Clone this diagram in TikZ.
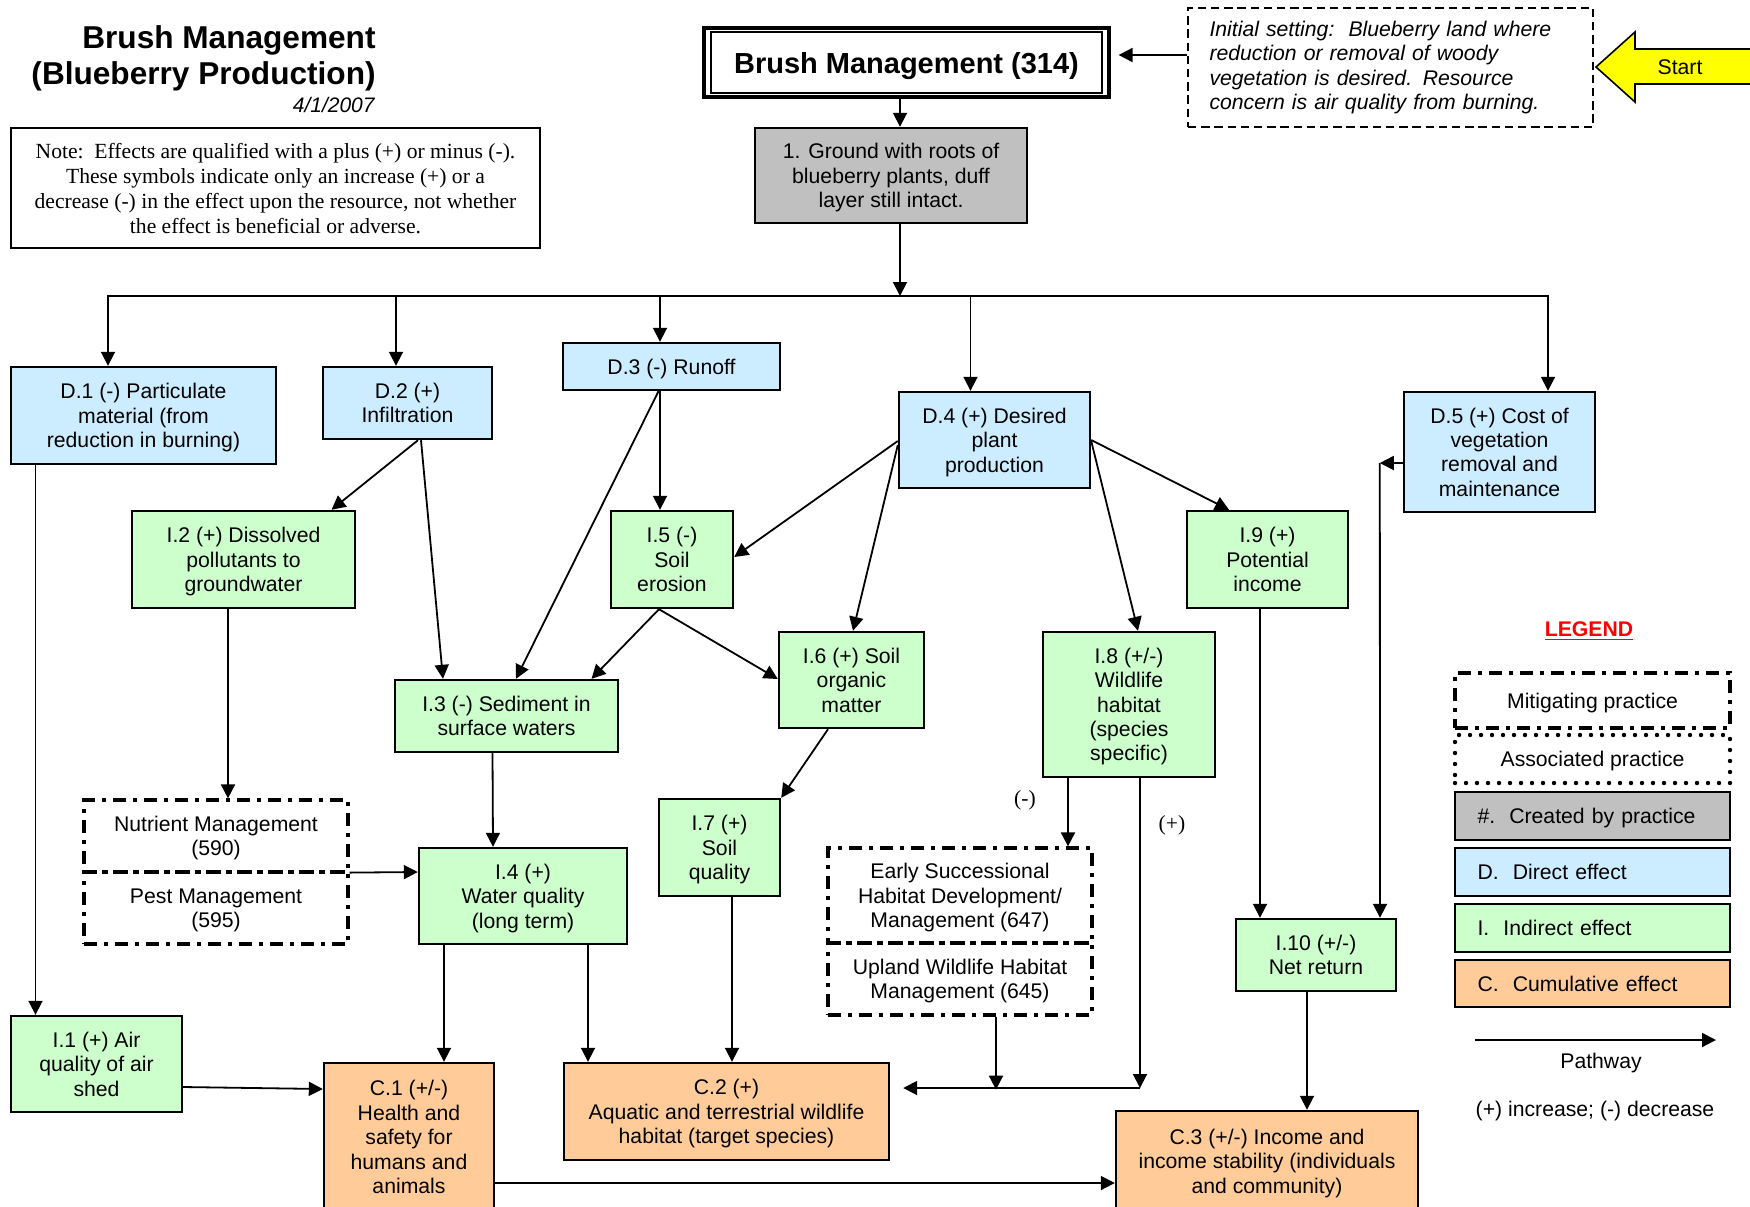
\documentclass[tikz,border=0pt]{standalone}
\usepackage{fontspec}
\setmainfont{Liberation Sans}
\newfontfamily\notefont{Liberation Serif}
\usetikzlibrary{arrows.meta,calc}

\definecolor{dirblue}{HTML}{CCECFF}
\definecolor{indgreen}{HTML}{CCFFCC}
\definecolor{cumorange}{HTML}{FFCC99}
\definecolor{crgray}{HTML}{C0C0C0}
\definecolor{startyellow}{HTML}{FFFF00}

% rectangle node given by its corners (x1,y1) (x2,y2) in picture units
\newcommand\boxat[7]{%
  \pgfmathsetmacro\bxwd{(#4-#2)*0.5}%
  \pgfmathsetmacro\bxht{(#5-#3)*0.5}%
  \node[#6, minimum width=\bxwd pt, minimum height=\bxht pt] (#1) at ({(#2+#4)/2},{(#3+#5)/2}) {#7};}

\tikzset{
  plainbox/.style={draw, line width=1.2pt, inner sep=1pt},
  box/.style={plainbox, align=center, text depth=0pt},
  dir/.style={box, fill=dirblue},
  ind/.style={box, fill=indgreen},
  cum/.style={box, fill=cumorange},
  made/.style={box, fill=crgray},
  mitig/.style={box, line width=1.6pt, dash pattern=on 6.5pt off 3.5pt on 2pt off 3.5pt},
  assoc/.style={box, line width=2.2pt, line cap=round, dash pattern=on 0pt off 5.5pt},
  legendbox/.style={align=left, text width=115pt, inner xsep=11pt},
  setting/.style={plainbox, line width=0.9pt, dash pattern=on 4.2pt off 2.4pt, align=left, text width=181pt, inner xsep=10.5pt, font=\itshape\fontsize{10.6}{12.3}\selectfont},
  arr/.style={-{Triangle[length=7pt,width=7pt]}, line width=0.9pt},
  sign/.style={font=\notefont\fontsize{10.8}{12.5}\selectfont, inner sep=0pt},
}

\begin{document}
\begin{tikzpicture}[x=0.5pt, y=-0.5pt, font=\fontsize{10.6}{12.2}\selectfont]
\useasboundingbox (0,0) rectangle (1750,1206);
\clip (0,0) rectangle (1750,1206);

% ---- title block ----
\node[anchor=base east, inner sep=0pt, font=\bfseries\fontsize{15.8}{18}\selectfont] (title1) at (376,48) {Brush Management};
\node[anchor=base east, inner sep=0pt, font=\bfseries\fontsize{15.8}{18}\selectfont] (title2) at (376,84) {(Blueberry Production)};
\node[anchor=base east, inner sep=0pt, font=\itshape\fontsize{10.5}{12}\selectfont] (date) at (375,112) {4/1/2007};

\boxat{note}{11}{128}{540}{248}{box, line width=1pt, font=\notefont\fontsize{10.8}{12.5}\selectfont}{Note:\ \ Effects are qualified with a plus (+) or minus (-).\\These symbols indicate only an increase (+) or a\\decrease (-) in the effect upon the resource, not whether\\the effect is beneficial or adverse.}

% ---- practice and setting ----
\boxat{bm}{704}{28}{1109}{97}{box, line width=1.6pt, font=\bfseries\fontsize{14.5}{17}\selectfont}{Brush Management (314)}
\draw[line width=1pt] ($(bm.north west)+(9,6)$) rectangle ($(bm.south east)+(-9,-6)$);

\boxat{init}{1188}{8}{1593}{127}{setting}{Initial setting:\ \ Blueberry land where\\reduction or removal of woody\\vegetation is desired. Resource\\concern is air quality from burning.}

\draw[line width=0.8pt, fill=startyellow] (1596,67) -- (1635,32) -- (1635,49) -- (1770,49) -- (1770,84) -- (1635,84) -- (1635,102) -- cycle;
\node (start) at (1680,67) {Start};

\boxat{g1}{755}{128}{1027}{223}{made}{1. Ground with roots of\\blueberry plants, duff\\layer still intact.}

% ---- direct effects ----
\boxat{D1}{11}{367}{276}{464}{dir}{D.1 (-) Particulate\\material (from\\reduction in burning)}
\boxat{D2}{323}{367}{492}{439}{dir}{D.2 (+)\\Infiltration}
\boxat{D3}{563}{343}{780}{390}{dir}{D.3 (-) Runoff}
\boxat{D4}{899}{392}{1090}{488}{dir}{D.4 (+) Desired\\plant\\production}
\boxat{D5}{1404}{392}{1595}{512}{dir}{D.5 (+) Cost of\\vegetation\\removal and\\maintenance}

% ---- indirect effects ----
\boxat{I2}{132}{511}{355}{608}{ind}{I.2 (+) Dissolved\\pollutants to\\groundwater}
\boxat{I5}{611}{511}{733}{608}{ind}{I.5 (-)\\Soil\\erosion}
\boxat{I9}{1187}{511}{1348}{608}{ind}{I.9 (+)\\Potential\\income}
\boxat{I3}{395}{680}{618}{752}{ind}{I.3 (-) Sediment in\\surface waters}
\boxat{I6}{779}{632}{924}{728}{ind}{I.6 (+) Soil\\organic\\matter}
\boxat{I7}{659}{799}{780}{896}{ind}{I.7 (+)\\Soil\\quality}
\boxat{I4}{419}{848}{627}{944}{ind}{I.4 (+)\\Water quality\\(long term)}
\boxat{I8}{1043}{632}{1215}{777}{ind}{I.8 (+/-)\\Wildlife\\habitat\\(species\\specific)}
\boxat{I10}{1236}{919}{1396}{991}{ind}{I.10 (+/-)\\Net return}
\boxat{I1}{11}{1016}{182}{1112}{ind}{I.1 (+) Air\\quality of air\\shed}

% ---- mitigating practices ----
\boxat{nut}{84}{800}{348}{872}{mitig}{Nutrient Management\\(590)}
\boxat{pest}{84}{872}{348}{944}{mitig}{Pest Management\\(595)}
\boxat{esh}{828}{848}{1092}{943}{mitig}{Early Successional\\Habitat Development/\\Management (647)}
\boxat{uwh}{828}{943}{1092}{1015}{mitig}{Upland Wildlife Habitat\\Management (645)}

% ---- cumulative effects ----
\boxat{C1}{324}{1063}{494}{1211}{cum}{C.1 (+/-)\\Health and\\safety for\\humans and\\animals}
\boxat{C2}{564}{1063}{889}{1160}{cum}{C.2 (+)\\Aquatic and terrestrial wildlife\\habitat (target species)}
\boxat{C3}{1116}{1111}{1418}{1211}{cum}{C.3 (+/-) Income and\\income stability (individuals\\and community)}

% ---- pathways ----
\coordinate (bus) at (900,296);
\draw[arr] ($(init.west)+(0,-12.5)$) -- ($(bm.east)+(8,-7.5)$);
\draw[arr] ($(bm.south)+(-6.5,0)$) -- ($(g1.north)+(9,0)$);
\draw[arr] ($(g1.south)+(9,0)$) -- (bus);
\draw[arr] (bus) -| ($(D1.north)+(-35.5,0)$);
\draw[arr] (bus) -| ($(D2.north)+(-11.5,0)$);
\draw[arr] (bus) -| ($(D3.north)+(-11.5,0)$);
\draw[arr] (bus) -| ($(D4.north)+(-24,0)$);
\draw[arr] (bus) -| ($(D5.north)+(48.5,0)$);

\draw[arr] ($(D1.south)+(-108,0)$) -- ($(I1.north)+(-61,0)$);
\draw[arr] ($(D2.south)+(10.5,0)$) -- ($(I2.north)+(88,0)$);
\draw[arr] ($(D2.south)+(13.5,0)$) -- ($(I3.north)+(-63.5,0)$);
\draw[arr] ($(D3.south)+(-11.5,0)$) -- ($(I5.north)+(-12,0)$);
\draw[arr] ($(D3.south)+(-13,0)$) -- ($(I3.north)+(9.5,0)$);
\draw[arr] ($(D4.west)+(0,1)$) -- ($(I5.east)+(0,-2.5)$);
\draw[arr] ($(D4.west)+(0,5)$) -- ($(I6.north)+(1.5,0)$);
\draw[arr] ($(D4.east)+(0,1)$) -- ($(I8.north)+(9,0)$);
\draw[arr] (D4.east) -- ($(I9.north)+(-38.5,0)$);
\draw[arr] ($(D5.west)+(0,11)$) -- ++(-23,0) coordinate (d5c);
\draw[arr] (d5c) -- ($(I10.north)+(64,0)$);

\draw[arr] ($(I5.south)+(-13,0)$) -- ($(I3.north)+(85,0)$);
\draw[arr] ($(I5.south)+(-13,0)$) -- ($(I6.west)+(0,-1)$);
\draw[arr] ($(I6.south)+(-23.5,0)$) -- (I7.north east);
\draw[arr] ($(I3.south)+(-14,0)$) -- ($(I4.north)+(-30,0)$);
\draw[arr] ($(I2.south)+(-15.5,0)$) -- ($(nut.north)+(12,0)$);
\draw[arr] ($(nut.south east)+(0,-1)$) -- ($(I4.west)+(0,-24)$);
\draw[arr] ($(I4.south)+(-79,0)$) -- ($(C1.north)+(35,0)$);
\draw[arr] ($(I4.south)+(65,0)$) -- ($(C2.north)+(-138.5,0)$);
\draw[arr] ($(I7.south)+(12.5,0)$) -- ($(C2.north)+(5.5,0)$);
\draw[arr] ($(I1.east)+(0,23)$) -- ($(C1.west)+(0,-48)$);
\draw[arr] ($(C1.east)+(0,46)$) -- ($(C3.west)+(0,22)$);
\draw[arr] ($(I9.south)+(-7.5,0)$) -- ($(I10.north)+(-56,0)$);
\draw[arr] ($(I10.south)+(-9,0)$) -- ($(C3.north)+(40,0)$);

\coordinate (jn) at (1140,1088);
\draw[arr] ($(I8.south)+(-61,0)$) -- ($(esh.north)+(108,0)$);
\draw[arr] ($(I8.south)+(11,0)$) -- (jn);
\draw[arr] ($(uwh.south)+(36,0)$) -- ($(uwh.south)+(36,73)$);
\draw[arr] (jn) -- ($(C2.east)+(13,-23.5)$);
\node[sign] (lminus) at (1025,800) {(-)};
\node[sign] (lplus) at (1172,825) {(+)};

% ---- legend ----
\node[font=\bfseries\fontsize{10.6}{12}\selectfont, text=red] (legend) at (1589,631) {\underline{LEGEND}};
\boxat{lgmit}{1455}{673}{1730}{728}{mitig}{Mitigating practice}
\boxat{lgassoc}{1455}{735}{1730}{783}{assoc}{Associated practice}
\boxat{lgmade}{1455}{792}{1730}{840}{made, legendbox}{\#.\ \ Created by practice}
\boxat{lgdir}{1455}{848}{1730}{896}{dir, legendbox}{D.\ \ Direct effect}
\boxat{lgind}{1455}{904}{1730}{952}{ind, legendbox}{I.\ \ Indirect effect}
\boxat{lgcum}{1455}{960}{1730}{1007}{cum, legendbox}{C.\ \ Cumulative effect}
\coordinate (pwa) at (1475,1040);
\coordinate (pwb) at (1716,1040);
\draw[arr] (pwa) -- (pwb);
\node (pwtext) at (1601,1063) {Pathway};
\node (pmtext) at (1595,1111) {(+) increase; (-) decrease};
\end{tikzpicture}
\end{document}
